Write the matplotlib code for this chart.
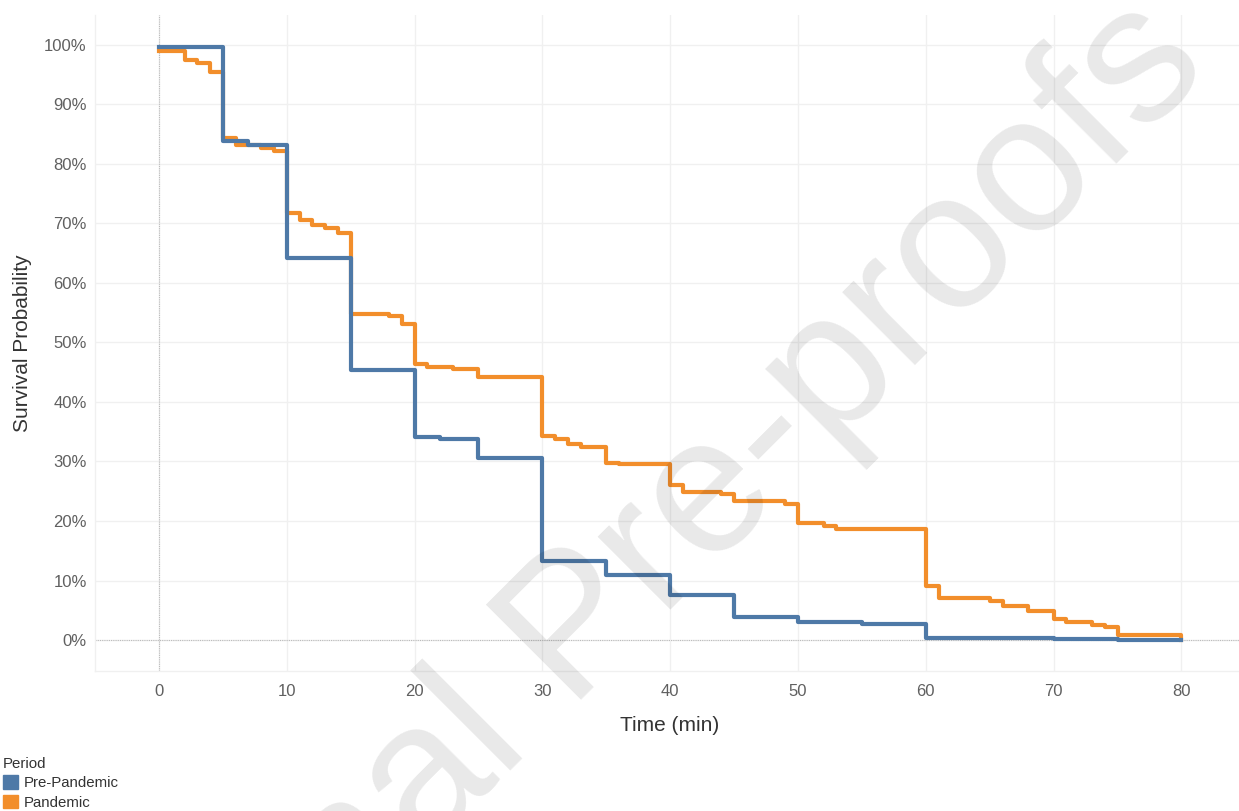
import matplotlib
matplotlib.use("Agg")
import matplotlib.pyplot as plt
import matplotlib.patches as mpatches
from matplotlib.ticker import FuncFormatter

# Kaplan-Meier style survival curves (values in %)
pre_t = [0, 5, 7, 10, 15, 20, 22, 25, 30, 35, 40, 45, 50, 55, 60, 70, 75, 80]
pre_s = [99.6, 83.9, 83.2, 64.2, 45.4, 34.1, 33.8, 30.6, 13.2, 10.9, 7.6, 3.9,
         3.1, 2.7, 0.3, 0.1, 0.0, 0.0]

pan_t = [0, 2, 3, 4, 5, 6, 8, 9, 10, 11, 12, 13, 14, 15, 18, 19, 20, 21, 23, 25,
         30, 31, 32, 33, 35, 36, 40, 41, 44, 45, 49, 50, 52, 53, 60, 61, 65, 66,
         68, 70, 71, 73, 74, 75, 80]
pan_s = [99.0, 97.4, 96.9, 95.5, 84.4, 83.1, 82.6, 82.1, 71.8, 70.5, 69.7, 69.2,
         68.3, 54.8, 54.5, 53.1, 46.4, 45.9, 45.5, 44.2, 34.3, 33.8, 33.0, 32.5,
         29.8, 29.5, 26.0, 24.9, 24.6, 23.3, 22.9, 19.6, 19.2, 18.7, 9.0, 7.1,
         6.6, 5.8, 4.9, 3.5, 3.1, 2.6, 2.2, 0.8, 0.0]

x_ticks = [0, 10, 20, 30, 40, 50, 60, 70, 80]
y_ticks = [0, 10, 20, 30, 40, 50, 60, 70, 80, 90, 100]

blue = "#4e79a7"
orange = "#f28e2b"

plt.rcParams["font.family"] = ["Liberation Sans", "DejaVu Sans"]

fig = plt.figure(figsize=(12.39, 8.11), dpi=100)
ax = fig.add_axes([0.0767, 0.1726, 0.9233, 0.8089])

ax.step(pan_t, pan_s, where="post", color=orange, lw=3, zorder=3)
ax.step(pre_t, pre_s, where="post", color=blue, lw=3, zorder=4)

ax.set_xlim(-5, 84.5)
ax.set_ylim(-5.2, 105)
ax.set_xticks(x_ticks)
ax.set_yticks(y_ticks)
ax.yaxis.set_major_formatter(FuncFormatter(lambda v, p: "%d%%" % v))

ax.grid(True, color="#f0f0f0", lw=1)
ax.set_axisbelow(True)
ax.axhline(0, color="#bbbbbb", lw=0.8, ls=(0, (1, 1)), zorder=1)
ax.axvline(0, color="#bbbbbb", lw=0.8, ls=(0, (1, 1)), zorder=1)

for side in ["top", "right"]:
    ax.spines[side].set_visible(False)
for side in ["left", "bottom"]:
    ax.spines[side].set_color("#f0f0f0")
    ax.spines[side].set_linewidth(1)

ax.tick_params(length=0, labelsize=12, labelcolor="#606060")
ax.tick_params(axis="y", pad=6)
ax.tick_params(axis="x", pad=9)

ax.set_xlabel("Time (min)", fontsize=15, color="#333333")
ax.set_ylabel("Survival Probability", fontsize=15, color="#333333")
ax.xaxis.set_label_coords(0.5026, -0.0823)
ax.xaxis.label.set_va("center")
ax.yaxis.set_label_coords(-0.0638, 0.5)
ax.yaxis.label.set_va("center")

handles = [mpatches.Patch(color=blue, label="Pre-Pandemic"),
           mpatches.Patch(color=orange, label="Pandemic")]
leg = fig.legend(handles=handles, title="Period", loc="lower left",
                 bbox_to_anchor=(0.0, -0.002), frameon=False, fontsize=10.8,
                 title_fontsize=10.8, handlelength=1.0, handleheight=1.0,
                 handletextpad=0.4, labelspacing=0.3, borderpad=0.2,
                 borderaxespad=0.0, alignment="left")
leg.get_title().set_color("#333333")
for t in leg.get_texts():
    t.set_color("#333333")

# watermark
fig.text(0.5218, 0.2183, "Journal Pre-proofs", fontsize=140, rotation=45,
         rotation_mode="anchor", ha="center", va="baseline",
         color="black", alpha=0.09, zorder=10)

fig.savefig("out.png", dpi=100)
